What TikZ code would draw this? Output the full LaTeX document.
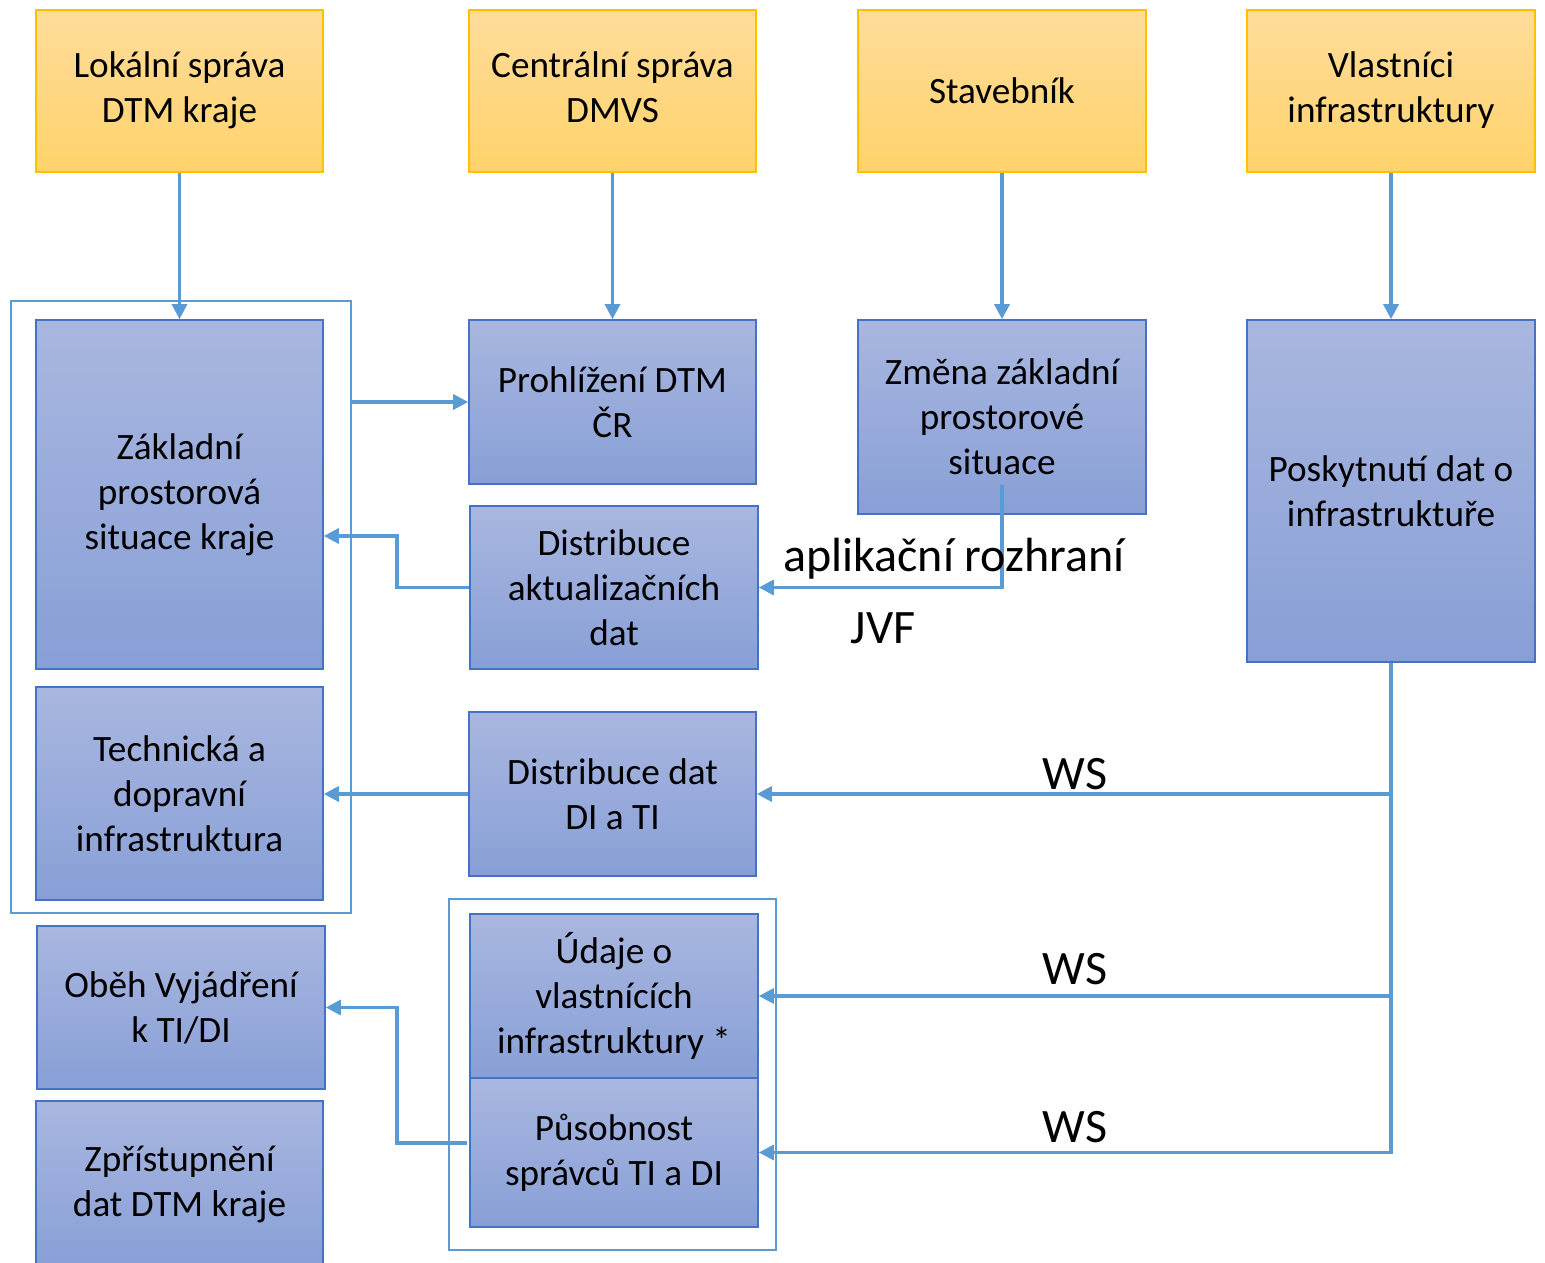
\documentclass[tikz,border=0pt]{standalone}
\usepackage{fontspec}
\setmainfont{Carlito}
\usetikzlibrary{arrows.meta,calc}
\definecolor{connc}{HTML}{5B9BD5}
\definecolor{bluetop}{HTML}{A9B7E0}
\definecolor{bluebot}{HTML}{889FD6}
\definecolor{blueedge}{HTML}{4472C4}
\definecolor{orgtop}{HTML}{FFDC9B}
\definecolor{orgbot}{HTML}{FFD36B}
\definecolor{orgedge}{HTML}{FFC000}
\begin{document}
\begin{tikzpicture}[x=0.5pt,y=-0.5pt,
  txt/.style={font=\fontsize{18.6pt}{22.5pt}\selectfont, align=center, text=black},
  orgbox/.style={txt, rectangle, draw=orgedge, line width=0.75pt, top color=orgtop, bottom color=orgbot, inner sep=0pt, minimum width=#1*0.5pt, minimum height=81pt},
  bluebox/.style={txt, rectangle, draw=blueedge, line width=0.8pt, top color=bluetop, bottom color=bluebot, inner sep=0pt},
  frame/.style={draw=connc, line width=1.4pt, fill=none},
  conn/.style={draw=connc, line width=1.6pt, -{Triangle[length=7.5pt,width=7.5pt]}},
  lab/.style={font=\fontsize{24pt}{28pt}\selectfont, anchor=base, text=black}]
\useasboundingbox (0,0) rectangle (1545,1262);
% frames
\draw[frame] (11,301) rectangle (351,913);
\node[inner sep=0pt, minimum width=170pt, minimum height=306pt] (frame1) at (181,607) {};
\draw[frame] (449,899) rectangle (776,1250);
\node[inner sep=0pt, minimum width=163.5pt, minimum height=175.5pt] (frame2) at (612.5,1074.5) {};
% top boxes
\node[orgbox=287] (lok) at (179.5,91) {\raisebox{-1.5pt}{\begin{tabular}{@{}c@{}}Lokální správa\\DTM kraje\end{tabular}}};
\node[orgbox=287] (cen) at (612.5,91) {\raisebox{-1.5pt}{\begin{tabular}{@{}c@{}}Centrální správa\\DMVS\end{tabular}}};
\node[orgbox=288] (stav) at (1002,91) {\raisebox{-1pt}{Stavebník}};
\node[orgbox=288] (vla) at (1391,91) {\raisebox{-1.5pt}{\begin{tabular}{@{}c@{}}Vlastníci\\infrastruktury\end{tabular}}};
% blue boxes
\node[bluebox, minimum width=143.5pt, minimum height=174.5pt] (zakl) at (179.5,494.5) {Základní\\prostorová\\situace kraje};
\node[bluebox, minimum width=143.5pt, minimum height=82pt] (proh) at (612.5,402) {Prohlížení DTM\\ČR};
\node[bluebox, minimum width=144pt, minimum height=97pt] (zmena) at (1002,417) {Změna základní\\prostorové\\situace};
\node[bluebox, minimum width=144pt, minimum height=171pt] (posk) at (1391,491) {Poskytnutí dat o\\infrastruktuře};
\node[bluebox, minimum width=144pt, minimum height=81.5pt] (dista) at (614,587.5) {Distribuce\\aktualizačních\\dat};
\node[bluebox, minimum width=143.5pt, minimum height=106.5pt] (tech) at (179.5,793.5) {Technická a\\dopravní\\infrastruktura};
\node[bluebox, minimum width=143.5pt, minimum height=82pt] (distd) at (612.5,794) {Distribuce dat\\DI a TI};
\node[bluebox, minimum width=144pt, minimum height=82pt] (udaje) at (614,996) {Údaje o\\vlastnících\\infrastruktury *};
\node[bluebox, minimum width=144pt, minimum height=74.5pt] (pusob) at (614,1152.5) {Působnost\\správců TI a DI};
\node[bluebox, minimum width=144pt, minimum height=81.5pt] (obeh) at (181,1007.5) {Oběh Vyjádření\\k TI/DI};
\node[bluebox, minimum width=143.5pt, minimum height=83pt] (zpr) at (179.5,1184) {Zpřístupnění\\dat DTM kraje};
% connectors
\draw[conn] (lok.south) -- (zakl.north);
\draw[conn] (cen.south) -- (proh.north);
\draw[conn] (stav.south) -- (zmena.north);
\draw[conn] (vla.south) -- (posk.north);
\draw[conn] (frame1.east |- proh.west) -- (proh.west);
\coordinate (zin) at (zakl.east |- 0,536);
\draw[conn] (dista.west) -- (397,587.5) |- (zin);
\draw[conn] ([yshift=15pt]zmena.south) |- (dista.east);
\draw[conn] (distd.west) -- (tech.east |- distd.west);
\draw[conn] (posk.south) |- (pusob.east);
\draw[conn] (posk.south |- distd.east) -- (distd.east);
\draw[conn] (posk.south |- udaje.east) -- (udaje.east);
\coordinate (pout) at (467,1143);
\draw[conn] (pout) -- (397,1143) |- (obeh.east);
% labels
\node[lab] (apl) at (954,571) {aplikační rozhraní};
\node[lab] (jvf) at (883,643) {JVF};
\node[lab] (ws1) at (1075,789) {WS};
\node[lab] (ws2) at (1075,984) {WS};
\node[lab] (ws3) at (1075,1142) {WS};
\end{tikzpicture}
\end{document}
